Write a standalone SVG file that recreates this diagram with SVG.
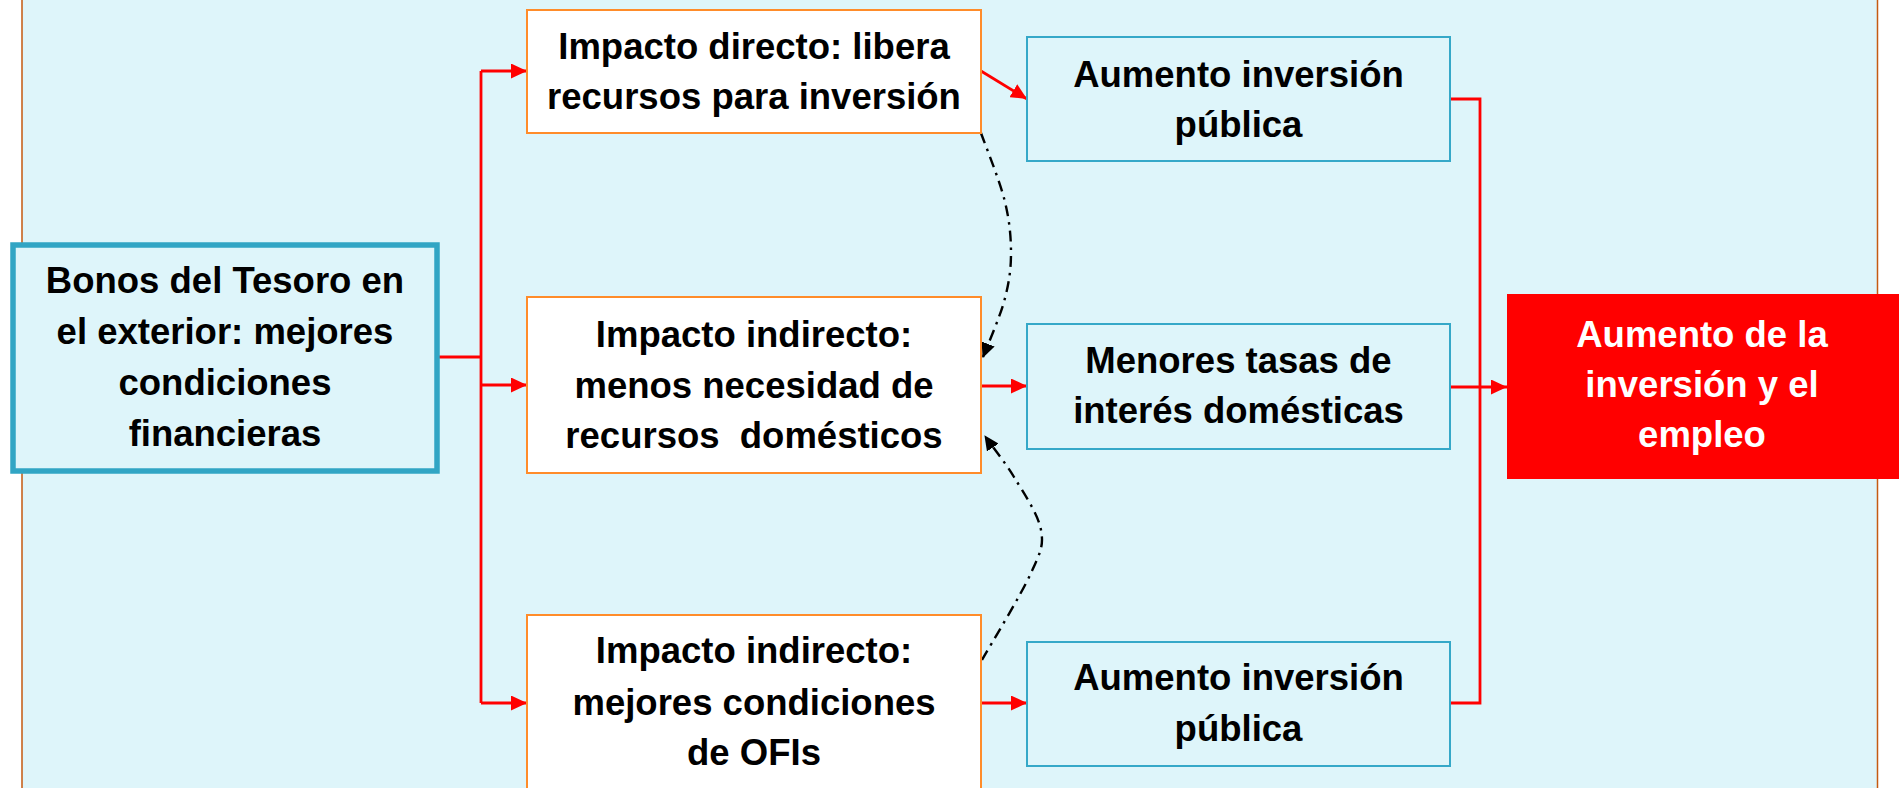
<svg xmlns="http://www.w3.org/2000/svg" width="1899" height="788" viewBox="0 0 1899 788">
<defs>
<marker id="ra" markerUnits="userSpaceOnUse" markerWidth="16" markerHeight="15" refX="16" refY="7.5" orient="auto"><path d="M0,0 L16,7.5 L0,15 z" fill="#FF0000"/></marker>
<marker id="ka" markerUnits="userSpaceOnUse" markerWidth="15" markerHeight="14" refX="14" refY="7" orient="auto"><path d="M0,0 L15,7 L0,14 z" fill="#000"/></marker>
</defs>
<style>
.t{font-family:"Liberation Sans",Arial,sans-serif;font-weight:bold;font-size:36.5px;fill:#000;text-anchor:middle}
.w{fill:#fff}
.or{fill:#fff;stroke:#FF8C2A;stroke-width:2}
.bl{fill:#DEF5FA;stroke:#35A8C8;stroke-width:2}
.rc{fill:none;stroke:#FF0000;stroke-width:2.8}
.dd{fill:none;stroke:#000;stroke-width:2.4;stroke-dasharray:11 6 2.5 6}
</style>
<rect x="0" y="0" width="1899" height="788" fill="#fff"/>
<rect x="22" y="-10" width="1855.5" height="810" fill="#DEF5FA" stroke="#C55A11" stroke-width="1.5"/>
<g id="connectors">
<path class="rc" d="M439 357 H481 M481 71 V703"/>
<path class="rc" d="M481 71 H527" marker-end="url(#ra)"/>
<path class="rc" d="M481 385 H527" marker-end="url(#ra)"/>
<path class="rc" d="M481 703 H527" marker-end="url(#ra)"/>
<path class="rc" d="M981 71 L1027 99" marker-end="url(#ra)"/>
<path class="rc" d="M981 386 H1027" marker-end="url(#ra)"/>
<path class="rc" d="M981 703 H1027" marker-end="url(#ra)"/>
<path class="rc" d="M1450 99 H1480 V703 H1450"/>
<path class="rc" d="M1450 387 H1507" marker-end="url(#ra)"/>
<path class="dd" d="M981 133 C984.9 144.2 999.5 180 1004.5 200 C1009.5 220 1011 236.3 1011 253 C1011 269.7 1009 283 1004.5 300 C1000 317 987.4 345.8 983 357" marker-end="url(#ka)"/>
<path class="dd" d="M982 660 C990.2 645.5 1021.2 594.7 1031 573 C1040.8 551.3 1043.8 546 1041 530 C1038.2 514 1023.2 492.3 1014 477 C1004.8 461.7 990.7 444.5 985 436" marker-end="url(#ka)"/>
</g>
<g id="bonos">
<rect x="13" y="245" width="424" height="226" fill="#DEF5FA" stroke="#31A5C4" stroke-width="5.5"/>
<text class="t" x="225" y="293">Bonos del Tesoro en</text>
<text class="t" x="225" y="344">el exterior: mejores</text>
<text class="t" x="225" y="395">condiciones</text>
<text class="t" x="225" y="446">financieras</text>
</g>
<g id="impacto-directo">
<rect class="or" x="527" y="10" width="454" height="123"/>
<text class="t" x="754" y="59">Impacto directo: libera</text>
<text class="t" x="754" y="109">recursos para inversión</text>
</g>
<g id="impacto-indirecto-1">
<rect class="or" x="527" y="297" width="454" height="176"/>
<text class="t" x="754" y="347">Impacto indirecto:</text>
<text class="t" x="754" y="398">menos necesidad de</text>
<text class="t" x="754" y="448" xml:space="preserve">recursos  domésticos</text>
</g>
<g id="impacto-indirecto-2">
<rect class="or" x="527" y="615" width="454" height="200"/>
<text class="t" x="754" y="663">Impacto indirecto:</text>
<text class="t" x="754" y="715">mejores condiciones</text>
<text class="t" x="754" y="765">de OFIs</text>
</g>
<g id="inversion-publica-1">
<rect class="bl" x="1027" y="37" width="423" height="124"/>
<text class="t" x="1238.5" y="87">Aumento inversión</text>
<text class="t" x="1238.5" y="137">pública</text>
</g>
<g id="tasas">
<rect class="bl" x="1027" y="324" width="423" height="125"/>
<text class="t" x="1238.5" y="373">Menores tasas de</text>
<text class="t" x="1238.5" y="423">interés domésticas</text>
</g>
<g id="inversion-publica-2">
<rect class="bl" x="1027" y="642" width="423" height="124"/>
<text class="t" x="1238.5" y="690">Aumento inversión</text>
<text class="t" x="1238.5" y="741">pública</text>
</g>
<g id="resultado">
<rect x="1507" y="294" width="400" height="185" fill="#FF0000"/>
<text class="t w" x="1702" y="347">Aumento de la</text>
<text class="t w" x="1702" y="397">inversión y el</text>
<text class="t w" x="1702" y="447">empleo</text>
</g>
</svg>
